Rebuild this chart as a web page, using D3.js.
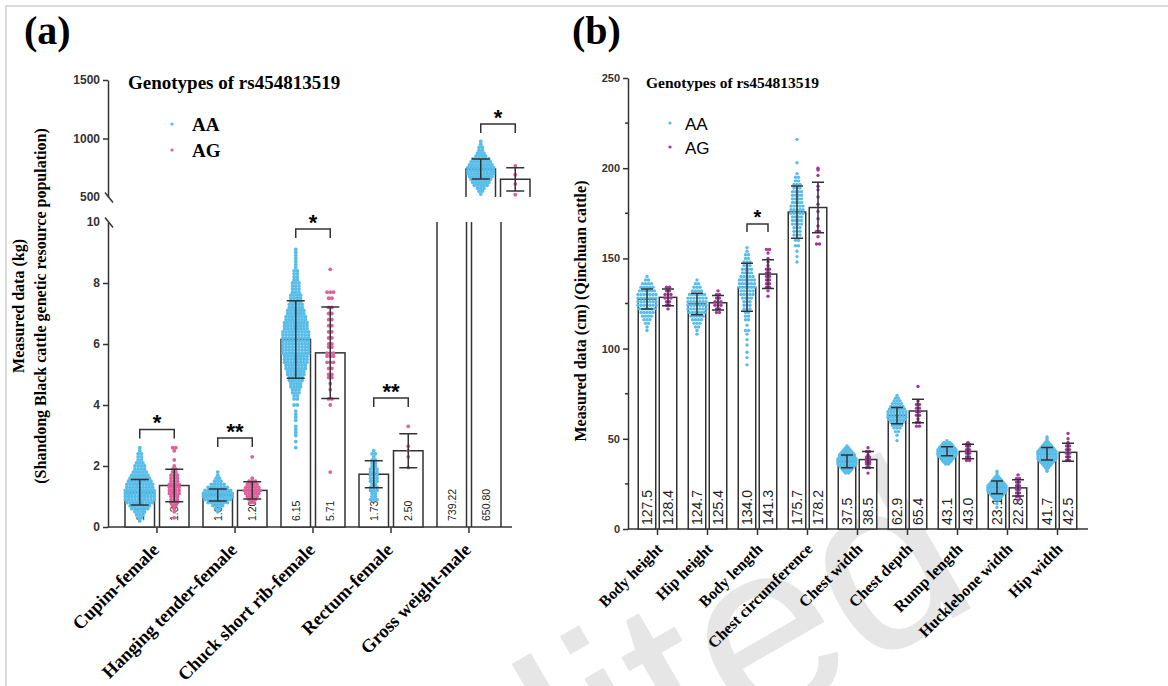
<!DOCTYPE html>
<html>
<head>
<meta charset="utf-8">
<script src="https://cdn.jsdelivr.net/npm/d3@7"></script>
<style>
  body { margin: 0; background: #fff; }
  svg { display: block; }
</style>
</head>
<body>
<div id="chart"></div>
<script>
// ---------- data : panel (a) ----------
const genotypes = ["AA", "AG"];
const catsA = ["Cupim-female", "Hanging tender-female", "Chuck short rib-female", "Rectum-female", "Gross weight-male"];
const meanAA_a = [1.14, 1.05, 6.15, 1.73, 739.22];
const meanAG_a = [1.36, 1.20, 5.71, 2.50, 650.80];
const sdAA_a = [0.42, 0.20, 1.27, 0.44, 85];
const sdAG_a = [0.53, 0.28, 1.50, 0.56, 100];
const sigA = ["*", "**", "*", "**", "*"];
const bracketA = [3.2, 2.92, 9.77, 4.23, 1124];
const ticksLoA = [0, 2, 4, 6, 8, 10];
const ticksHiA = [500, 1000, 1500];

// dots as [value, count]
const dotsAA_a = [
  [[0.2,1],[0.3,2],[0.4,3],[0.5,4],[0.6,6],[0.7,7],[0.8,9],[0.9,10],[1.0,10],[1.1,10],[1.2,10],[1.3,9],[1.4,9],[1.5,8],[1.6,7],[1.7,6],[1.8,5],[1.9,4],[2.0,4],[2.1,3],[2.2,2],[2.3,2],[2.4,2],[2.5,1],[2.6,1]],
  [[0.5,1],[0.6,2],[0.7,4],[0.8,7],[0.9,9],[1.0,10],[1.1,10],[1.2,9],[1.3,7],[1.4,5],[1.5,3],[1.6,2],[1.7,1],[1.8,1]],
  [[2.6,1],[2.8,1],[3.0,1],[3.1,1],[3.2,1],[3.3,1],[3.5,1],[3.6,1],[3.7,1],[3.8,1],[4.0,2],[4.2,2],[4.3,2],[4.4,3],[4.5,3],[4.6,4],[4.7,4],[4.8,5],[4.9,5],[5.0,6],[5.1,6],[5.2,7],[5.3,7],[5.4,8],[5.5,8],[5.6,8],[5.7,9],[5.8,9],[5.9,9],[6.0,9],[6.1,9],[6.2,9],[6.3,9],[6.4,9],[6.5,8],[6.6,8],[6.7,8],[6.8,7],[6.9,7],[7.0,6],[7.1,6],[7.2,5],[7.3,5],[7.4,4],[7.5,4],[7.6,4],[7.7,3],[7.8,3],[7.9,3],[8.0,3],[8.1,2],[8.2,2],[8.3,2],[8.4,2],[8.5,1],[8.6,1],[8.7,1],[8.8,1],[8.9,1],[9.0,1],[9.1,1]],
  [[0.9,3],[1.0,2],[1.1,2],[1.2,3],[1.3,3],[1.4,2],[1.5,3],[1.6,3],[1.7,3],[1.8,3],[1.9,3],[2.0,2],[2.1,2],[2.2,2],[2.3,1],[2.4,2],[2.5,1]],
  [[525,1],[550,2],[575,3],[600,5],[625,6],[650,7],[675,8],[700,9],[725,9],[750,9],[775,8],[800,7],[825,6],[850,4],[875,3],[900,2],[925,2],[950,1],[975,1]]
];
const dotsAG_a = [
  [[0.3,1],[0.5,1],[0.6,1],[0.7,2],[0.8,3],[0.9,3],[1.0,3],[1.1,4],[1.2,4],[1.3,4],[1.4,4],[1.5,3],[1.6,3],[1.7,3],[1.8,2],[1.9,2],[2.0,1],[2.2,1],[2.5,1],[2.6,2]],
  [[0.8,2],[0.9,3],[1.0,4],[1.1,5],[1.2,6],[1.3,5],[1.4,4],[1.5,3],[1.6,1],[2.3,1]],
  [[1.8,1],[4.0,1],[4.2,2],[4.5,1],[4.7,1],[4.9,2],[5.0,2],[5.2,2],[5.4,3],[5.6,3],[5.7,3],[5.9,2],[6.0,2],[6.2,2],[6.4,2],[6.6,2],[6.8,2],[7.0,2],[7.2,2],[7.5,2],[7.7,3],[8.45,1]],
  [[1.95,1],[2.3,1],[2.5,1],[2.65,1],[3.3,1]],
  [[520,1],[612,1],[690,1],[765,1]]
];

// ---------- data : panel (b) ----------
const catsB = ["Body height", "Hip height", "Body length", "Chest circumference", "Chest width", "Chest depth", "Rump length", "Hucklebone width", "Hip width"];
const meanAA_b = [127.5, 124.7, 134.0, 175.7, 37.5, 62.9, 43.1, 23.1, 41.7];
const meanAG_b = [128.4, 125.4, 141.3, 178.2, 38.5, 65.4, 43.0, 22.8, 42.5];
const sdAA_b = [5.5, 6.0, 13.3, 14.5, 3.5, 4.5, 2.5, 3.5, 3.5];
const sdAG_b = [4.7, 4.0, 8.0, 14.0, 4.5, 6.5, 4.0, 4.5, 5.0];
const sigB = ["", "", "*", "", "", "", "", "", ""];
const bracketB = [0, 0, 169, 0, 0, 0, 0, 0, 0];
const ticksB = [0, 50, 100, 150, 200, 250];
const minorTicksB = [25, 75, 125, 175, 225];

const dotsAA_b = [
  [[110,1],[112,1],[114,2],[116,3],[118,4],[120,5],[122,6],[124,7],[126,7],[128,7],[130,7],[132,6],[134,5],[136,4],[138,2],[140,1]],
  [[108,1],[110,1],[112,2],[114,3],[116,4],[118,5],[120,6],[122,7],[124,7],[126,7],[128,7],[130,6],[132,4],[134,3],[136,2],[138,1]],
  [[91,1],[95,1],[98,1],[102,1],[105,1],[108,1],[110,2],[113,1],[116,2],[118,2],[120,2],[122,3],[124,3],[126,3],[128,4],[130,5],[132,5],[134,6],[136,6],[138,6],[140,5],[142,4],[144,4],[146,3],[148,3],[150,2],[152,2],[154,1],[156,1]],
  [[148,1],[151,1],[154,1],[157,2],[160,2],[163,3],[165,3],[167,3],[169,4],[171,4],[173,4],[175,5],[177,5],[179,5],[181,4],[183,4],[185,4],[187,4],[189,3],[191,3],[193,2],[195,2],[197,1],[203,1],[216,1]],
  [[31,2],[32,3],[33,4],[34,5],[35,6],[36,7],[37,7],[38,7],[39,7],[40,6],[41,6],[42,5],[43,4],[44,3],[45,2],[46,1]],
  [[49,1],[52,1],[54,2],[56,3],[57.5,4],[59,5],[60.5,6],[62,7],[63.5,7],[65,7],[66.5,6],[68,5],[69.5,4],[71,3],[72.5,2],[74,1]],
  [[36,2],[37,3],[38,4],[39,5],[40,6],[41,7],[42,7],[43,7],[44,7],[45,6],[46,5],[47,4],[48,3],[49,1]],
  [[12,1],[14,1],[16,2],[17,3],[18,4],[19,5],[20,6],[21,7],[22,7],[23,7],[24,7],[25,6],[26,5],[27,4],[28,3],[29,2],[30,1],[31,1],[32,1]],
  [[32,1],[33,1],[34,2],[35,3],[36,4],[37,5],[38,6],[39,7],[40,7],[41,7],[42,7],[43,7],[44,6],[45,5],[46,4],[47,3],[48,2],[49,1],[50,1],[51,1]]
];
const dotsAG_b = [
  [[122,1],[124,2],[126,2],[128,3],[130,3],[132,2],[134,2]],
  [[120,2],[122,2],[124,3],[126,3],[128,2],[130,2],[132,1]],
  [[129,1],[132,1],[134,2],[136,2],[138,2],[140,2],[142,2],[144,2],[146,1],[148,1],[150,1],[153,1],[155,2]],
  [[158,2],[162,1],[165,2],[168,1],[172,1],[176,1],[180,1],[184,1],[188,1],[190,1],[196,1],[199,1],[200,1]],
  [[31,1],[34,2],[36,2],[37,2],[38,2],[39,2],[40,2],[41,1],[43,2],[45,1]],
  [[57,2],[59,2],[61,1],[63,2],[65,2],[67,2],[69,2],[71,1],[79,1]],
  [[38,2],[40,2],[42,2],[43,2],[44,2],[46,2],[47,2],[48,1]],
  [[16,1],[18,2],[20,2],[22,2],[24,2],[26,2],[28,2],[30,1]],
  [[38,2],[40,2],[42,2],[44,2],[46,2],[48,1],[50,1],[53,1]]
];

// ---------- setup ----------
const width = 1168, height = 686;
const serif = "'Liberation Serif', 'Times New Roman', serif";
const sans = "'Liberation Sans', Arial, sans-serif";
const blue = "#58bde9", pink = "#e0609c", purple = "#a3359b";
const ink = "#333";

const svg = d3.select("#chart").append("svg")
    .attr("width", width)
    .attr("height", height);

// watermark
svg.append("text")
    .attr("transform", "translate(985,600) rotate(-30)")
    .attr("text-anchor", "end")
    .attr("font-family", sans)
    .attr("font-size", 250)
    .attr("fill", "#e6e6e6")
    .text("Unedited");

// frame
svg.append("path")
    .attr("d", `M6,${height}V6H${width}`)
    .attr("fill", "none")
    .attr("stroke", "#cfcfcf")
    .attr("stroke-width", 1.5);

// dots laid out in rows, one row per value
function swarm(bins, cx, y, gap) {
    const pts = [];
    bins.forEach(([v, n]) => {
        for (let i = 0; i < n; i++) {
            pts.push({ x: cx + (i - (n - 1) / 2) * gap, y: y(v) });
        }
    });
    return pts;
}

function errPath(cx, y, m, sd, cap) {
    const t = y(m + sd), b = y(m - sd);
    return `M${cx},${b}V${t}M${cx - cap / 2},${t}H${cx + cap / 2}M${cx - cap / 2},${b}H${cx + cap / 2}`;
}

function barLabel(g, cx, base, txt, size) {
    g.append("text")
        .attr("transform", `translate(${cx + size * 0.36},${base}) rotate(-90)`)
        .attr("font-family", sans)
        .attr("font-size", size)
        .attr("fill", "#222")
        .text(txt);
}

function styleAxis(ax, size) {
    ax.select(".domain").attr("stroke", ink).attr("stroke-width", 1.5);
    ax.selectAll(".tick line").attr("stroke", ink).attr("stroke-width", 1.5);
    ax.selectAll(".tick text")
        .attr("font-family", sans).attr("font-size", size).attr("font-weight", "bold").attr("fill", ink);
}

// ================= panel (a) =================
const gA = svg.append("g");
const xA = d3.scaleBand().domain(catsA).range([118, 508]);
const subA = d3.scaleBand().domain(genotypes).range([-32, 32]).paddingInner(0.145);
const yLo = d3.scaleLinear().domain([0, 10]).range([527, 222]);
const yHi = d3.scaleLinear().domain([500, 1500]).range([197, 80]);
const yOf = v => v > 10 ? yHi : yLo;
const hiShift = 29;   // upper (broken) segment sits a little to the right
const axisX0 = 108;

gA.append("text")
    .attr("x", 24).attr("y", 44)
    .attr("font-family", serif).attr("font-weight", "bold").attr("font-size", 40)
    .text("(a)");

// y axes (two segments with break marks)
const yAxLo = gA.append("g")
    .attr("transform", `translate(${axisX0},0)`)
    .call(d3.axisLeft(yLo).tickValues(ticksLoA).tickSize(5).tickSizeOuter(0));
const yAxHi = gA.append("g")
    .attr("transform", `translate(${axisX0},0)`)
    .call(d3.axisLeft(yHi).tickValues(ticksHiA).tickSize(5).tickSizeOuter(0).tickFormat(d3.format("d")));
styleAxis(yAxLo, 12);
styleAxis(yAxHi, 12);
yAxLo.selectAll(".tick").filter(d => d === 10).select("line")
    .attr("x1", -3).attr("y1", -5).attr("x2", 5).attr("y2", 5);
yAxHi.selectAll(".tick").filter(d => d === 500).select("line")
    .attr("x1", -3).attr("y1", -5).attr("x2", 5).attr("y2", 5);

// x axis
const xAxA = gA.append("g")
    .attr("transform", `translate(0,${yLo(0)})`)
    .call(d3.axisBottom(xA).tickSize(6).tickSizeOuter(0).tickFormat(""));
xAxA.select(".domain").remove();
xAxA.selectAll(".tick line").attr("stroke", ink).attr("stroke-width", 1.5);
gA.append("line")
    .attr("x1", axisX0).attr("x2", 512)
    .attr("y1", yLo(0)).attr("y2", yLo(0))
    .attr("stroke", ink).attr("stroke-width", 1.5);

gA.selectAll(".xlab")
    .data(catsA)
    .enter()
    .append("text")
    .attr("class", "xlab")
    .attr("transform", d => `translate(${xA(d) + xA.bandwidth() / 2 + 3},${yLo(0) + 24}) rotate(-45)`)
    .attr("text-anchor", "end")
    .attr("font-family", serif).attr("font-weight", "bold").attr("font-size", 18.5)
    .text(d => d);

// y title
gA.append("text")
    .attr("transform", "translate(24,306) rotate(-90)")
    .attr("text-anchor", "middle")
    .attr("font-family", serif).attr("font-weight", "bold").attr("font-size", 16)
    .text("Measured data (kg)");
gA.append("text")
    .attr("transform", "translate(46,306) rotate(-90)")
    .attr("text-anchor", "middle")
    .attr("font-family", serif).attr("font-weight", "bold").attr("font-size", 16)
    .text("(Shandong Black cattle genetic resource population)");

// bars, labels, dots, error bars
const cap = 18;
catsA.forEach((c, i) => {
    const cen = xA(c) + xA.bandwidth() / 2;
    const big = meanAA_a[i] > 10;
    const groups = [
        { g: "AA", m: meanAA_a[i], sd: sdAA_a[i], dots: dotsAA_a[i], col: blue },
        { g: "AG", m: meanAG_a[i], sd: sdAG_a[i], dots: dotsAG_a[i], col: pink }
    ];
    groups.forEach(d => {
        const x0 = cen + subA(d.g), w = subA.bandwidth(), cx = x0 + w / 2;
        let dx = cx;
        if (!big) {
            gA.append("rect")
                .attr("x", x0).attr("y", yLo(d.m))
                .attr("width", w).attr("height", yLo(0) - yLo(d.m))
                .attr("fill", "#fff").attr("stroke", ink).attr("stroke-width", 1.5);
        } else {
            gA.append("path")
                .attr("d", `M${x0},${yLo(0)}V${yLo(10)}M${x0 + w},${yLo(0)}V${yLo(10)}`)
                .attr("fill", "none").attr("stroke", ink).attr("stroke-width", 1.5);
            const u0 = x0 + hiShift;
            gA.append("path")
                .attr("d", `M${u0},${yHi(500)}V${yHi(d.m)}H${u0 + w}V${yHi(500)}`)
                .attr("fill", "#fff").attr("stroke", ink).attr("stroke-width", 1.5);
            dx = cx + hiShift;
        }
        barLabel(gA, cx, yLo(0) - 6, d.m.toFixed(2), 10.5);
        gA.selectAll(null)
            .data(swarm(d.dots, dx, yOf(d.m), 3.2))
            .enter()
            .append("circle")
            .attr("cx", p => p.x).attr("cy", p => p.y).attr("r", 1.9)
            .attr("fill", d.col);
        gA.append("path")
            .attr("d", errPath(dx, yOf(d.m), d.m, d.sd, cap))
            .attr("fill", "none").attr("stroke", ink).attr("stroke-width", 1.5);
    });
    if (sigA[i]) {
        const y = yOf(bracketA[i]);
        const sh = big ? hiShift : 0;
        const x1 = cen + subA("AA") + subA.bandwidth() / 2 + sh;
        const x2 = cen + subA("AG") + subA.bandwidth() / 2 + sh;
        const yb = y(bracketA[i]);
        gA.append("path")
            .attr("d", `M${x1},${yb + 9}V${yb}H${x2}V${yb + 9}`)
            .attr("fill", "none").attr("stroke", ink).attr("stroke-width", 1.5);
        gA.append("text")
            .attr("x", (x1 + x2) / 2).attr("y", yb + 1)
            .attr("text-anchor", "middle")
            .attr("font-family", sans).attr("font-weight", "bold").attr("font-size", 22)
            .text(sigA[i]);
    }
});

// legend (a)
gA.append("text")
    .attr("x", 128).attr("y", 89)
    .attr("font-family", serif).attr("font-weight", "bold").attr("font-size", 19)
    .text("Genotypes of rs454813519");
genotypes.forEach((g, i) => {
    gA.append("circle").attr("cx", 172).attr("cy", 124 + i * 26).attr("r", 1.6)
        .attr("fill", i ? pink : blue);
    gA.append("text")
        .attr("x", 192).attr("y", 131 + i * 26)
        .attr("font-family", serif).attr("font-weight", "bold").attr("font-size", 19)
        .text(g);
});

// ================= panel (b) =================
const gB = svg.append("g");
const xB = d3.scaleBand().domain(catsB).range([632.5, 1082.5]);
const subB = d3.scaleBand().domain(genotypes).range([-19.25, 19.25]).paddingInner(0.167);
const yB = d3.scaleLinear().domain([0, 250]).range([529, 78]);
const axisXb = 628;

gB.append("text")
    .attr("x", 572).attr("y", 44)
    .attr("font-family", serif).attr("font-weight", "bold").attr("font-size", 40)
    .text("(b)");

const yAxB = gB.append("g")
    .attr("transform", `translate(${axisXb},0)`)
    .call(d3.axisLeft(yB).tickValues(ticksB).tickSize(5).tickSizeOuter(0));
styleAxis(yAxB, 11);
gB.selectAll(".minor")
    .data(minorTicksB)
    .enter()
    .append("line")
    .attr("x1", axisXb - 3).attr("x2", axisXb)
    .attr("y1", d => yB(d)).attr("y2", d => yB(d))
    .attr("stroke", ink).attr("stroke-width", 1.5);

const xAxB = gB.append("g")
    .attr("transform", `translate(0,${yB(0)})`)
    .call(d3.axisBottom(xB).tickSize(6).tickSizeOuter(0).tickFormat(""));
xAxB.select(".domain").remove();
xAxB.selectAll(".tick line").attr("stroke", ink).attr("stroke-width", 1.5);
gB.append("line")
    .attr("x1", axisXb).attr("x2", 1088)
    .attr("y1", yB(0)).attr("y2", yB(0))
    .attr("stroke", ink).attr("stroke-width", 1.5);

gB.selectAll(".xlab")
    .data(catsB)
    .enter()
    .append("text")
    .attr("class", "xlab")
    .attr("transform", d => `translate(${xB(d) + xB.bandwidth() / 2 + 6},${yB(0) + 21}) rotate(-45)`)
    .attr("text-anchor", "end")
    .attr("font-family", serif).attr("font-weight", "bold").attr("font-size", 16)
    .text(d => d);

gB.append("text")
    .attr("transform", "translate(586,311) rotate(-90)")
    .attr("text-anchor", "middle")
    .attr("font-family", serif).attr("font-weight", "bold").attr("font-size", 16)
    .text("Measured data (cm) (Qinchuan cattle)");

catsB.forEach((c, i) => {
    const cen = xB(c) + xB.bandwidth() / 2;
    const groups = [
        { g: "AA", m: meanAA_b[i], sd: sdAA_b[i], dots: dotsAA_b[i], col: blue },
        { g: "AG", m: meanAG_b[i], sd: sdAG_b[i], dots: dotsAG_b[i], col: purple }
    ];
    groups.forEach(d => {
        const x0 = cen + subB(d.g), w = subB.bandwidth(), cx = x0 + w / 2;
        gB.append("rect")
            .attr("x", x0).attr("y", yB(d.m))
            .attr("width", w).attr("height", yB(0) - yB(d.m))
            .attr("fill", "#fff").attr("stroke", ink).attr("stroke-width", 1.5);
        barLabel(gB, cx, yB(0) - 4, d.m.toFixed(1), 14);
        gB.selectAll(null)
            .data(swarm(d.dots, cx, yB, 3))
            .enter()
            .append("circle")
            .attr("cx", p => p.x).attr("cy", p => p.y).attr("r", 1.7)
            .attr("fill", d.col);
        gB.append("path")
            .attr("d", errPath(cx, yB, d.m, d.sd, 12))
            .attr("fill", "none").attr("stroke", ink).attr("stroke-width", 1.5);
    });
    if (sigB[i]) {
        const x1 = cen + subB("AA") + subB.bandwidth() / 2;
        const x2 = cen + subB("AG") + subB.bandwidth() / 2;
        const yb = yB(bracketB[i]);
        gB.append("path")
            .attr("d", `M${x1},${yb + 8}V${yb}H${x2}V${yb + 8}`)
            .attr("fill", "none").attr("stroke", ink).attr("stroke-width", 1.5);
        gB.append("text")
            .attr("x", (x1 + x2) / 2).attr("y", yb)
            .attr("text-anchor", "middle")
            .attr("font-family", sans).attr("font-weight", "bold").attr("font-size", 20)
            .text(sigB[i]);
    }
});

// legend (b)
gB.append("text")
    .attr("x", 646).attr("y", 88)
    .attr("font-family", serif).attr("font-weight", "bold").attr("font-size", 15.5)
    .text("Genotypes of rs454813519");
genotypes.forEach((g, i) => {
    gB.append("circle").attr("cx", 670).attr("cy", 123 + i * 24).attr("r", 1.6)
        .attr("fill", i ? purple : blue);
    gB.append("text")
        .attr("x", 685).attr("y", 130 + i * 24)
        .attr("font-family", sans).attr("font-size", 17)
        .text(g);
});
</script>
</body>
</html>
